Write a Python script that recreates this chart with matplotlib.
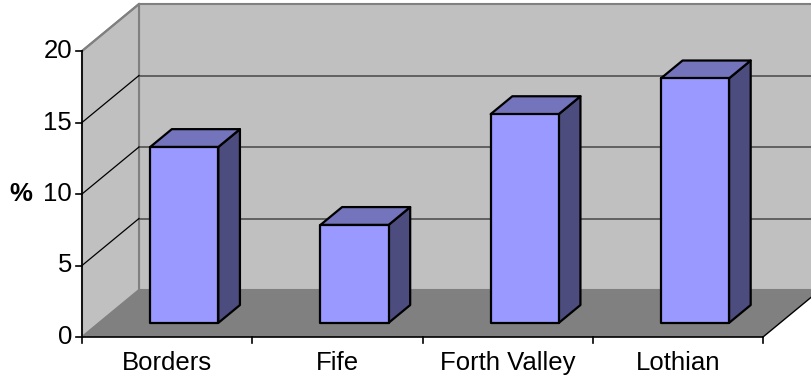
import matplotlib
matplotlib.use("Agg")
import matplotlib.pyplot as plt
from matplotlib.patches import Polygon

categories = ["Borders", "Fife", "Forth Valley", "Lothian"]
values = [12.3, 6.85, 14.6, 17.1]
y_ticks = [0, 5, 10, 15, 20]
y_label = "%"

plt.rcParams["font.family"] = ["Liberation Sans", "DejaVu Sans"]

W, H, DPI = 811, 382, 100
fig = plt.figure(figsize=(W / DPI, H / DPI), dpi=DPI)
fig.patch.set_facecolor("white")
ax = fig.add_axes([0, 0, 1, 1])
ax.set_axis_off()

# scale of the front plane: pixels per category and per value unit
px_cat = 170.25
px_val = 14.3
x0_px, y0_px = 82, 45  # origin of the front plane, from the lower left
xmin = -x0_px / px_cat
ymin = -y0_px / px_val
ax.set_xlim(xmin, xmin + W / px_cat)
ax.set_ylim(ymin, ymin + H / px_val)

# depth of the floor, as an oblique offset in data units
DX = 57 / px_cat
DY = 47 / px_val
ncat = len(categories)
vmax = y_ticks[-1]


def shift(x, y, d):
    return (x + d * DX, y + d * DY)


wall_c = "#c0c0c0"
floor_c = "#808080"
edge_c = "#808080"
fs = 18.5

# back wall
back = [shift(0, 0, 1), shift(ncat + 0.5, 0, 1), shift(ncat + 0.5, vmax, 1), shift(0, vmax, 1)]
ax.add_patch(Polygon(back, closed=True, facecolor=wall_c, edgecolor=edge_c, lw=1.5, zorder=1))
# left side wall
left = [(0, 0), shift(0, 0, 1), shift(0, vmax, 1), (0, vmax)]
ax.add_patch(Polygon(left, closed=True, facecolor=wall_c, edgecolor=edge_c, lw=1.5, zorder=1))
# floor
floor = [(0, 0), (ncat, 0), shift(ncat, 0, 1), shift(0, 0, 1)]
ax.add_patch(Polygon(floor, closed=True, facecolor=floor_c, edgecolor="none", zorder=2))
# right edge of the floor
ax.plot([ncat, ncat + DX], [0, DY], color="black", lw=1, zorder=3)

# gridlines on the back wall and the side wall
for v in y_ticks[1:-1]:
    bx0, by0 = shift(0, v, 1)
    ax.plot([bx0, ncat + 0.5], [by0, by0], color="#5a5a5a", lw=1.3, zorder=3)
    ax.plot([0, bx0], [v, by0], color="black", lw=0.9, zorder=3)
# top edge of the side wall
tx, ty = shift(0, vmax, 1)
ax.plot([0, tx], [vmax, ty], color=edge_c, lw=1.5, zorder=3)

# value axis and category axis
ax.plot([0, 0], [0, vmax], color="black", lw=1.2, zorder=4)
ax.plot([0, ncat], [0, 0], color="black", lw=1.2, zorder=4)
tick_y = 6 / px_val
tick_x = 6 / px_cat
for v in y_ticks:
    ax.plot([-tick_x, 0], [v, v], color="black", lw=1.2, zorder=4)
    ax.text(-tick_x - 4 / px_cat, v, str(v), ha="right", va="center", fontsize=fs, zorder=5)
for i in range(ncat + 1):
    ax.plot([i, i], [0, -tick_y], color="black", lw=1.2, zorder=4)
for i, name in enumerate(categories):
    ax.text(i + 0.5, -26 / px_val, name, ha="center", va="center", fontsize=fs, zorder=5)
ax.text(-61 / px_cat, 10, y_label, ha="center", va="center", fontsize=fs,
        fontweight="bold", zorder=5)

# 3-D columns
front_c = "#9999ff"
top_c = "#7474bc"
side_c = "#4c4c7e"
bar_w = 0.4
d_front, d_back = 0.30, 0.68
for i, v in enumerate(values):
    xl, xr = i + 0.5 - bar_w / 2, i + 0.5 + bar_w / 2
    fl0 = shift(xl, 0, d_front)
    fr0 = shift(xr, 0, d_front)
    frt = shift(xr, v, d_front)
    flt = shift(xl, v, d_front)
    br0 = shift(xr, 0, d_back)
    brt = shift(xr, v, d_back)
    blt = shift(xl, v, d_back)
    kw = dict(closed=True, edgecolor="black", lw=1.6, joinstyle="round", zorder=6)
    ax.add_patch(Polygon([fr0, br0, brt, frt], facecolor=side_c, **kw))
    ax.add_patch(Polygon([flt, frt, brt, blt], facecolor=top_c, **kw))
    ax.add_patch(Polygon([fl0, fr0, frt, flt], facecolor=front_c, **kw))

fig.savefig("out.png", dpi=DPI, facecolor="white")
